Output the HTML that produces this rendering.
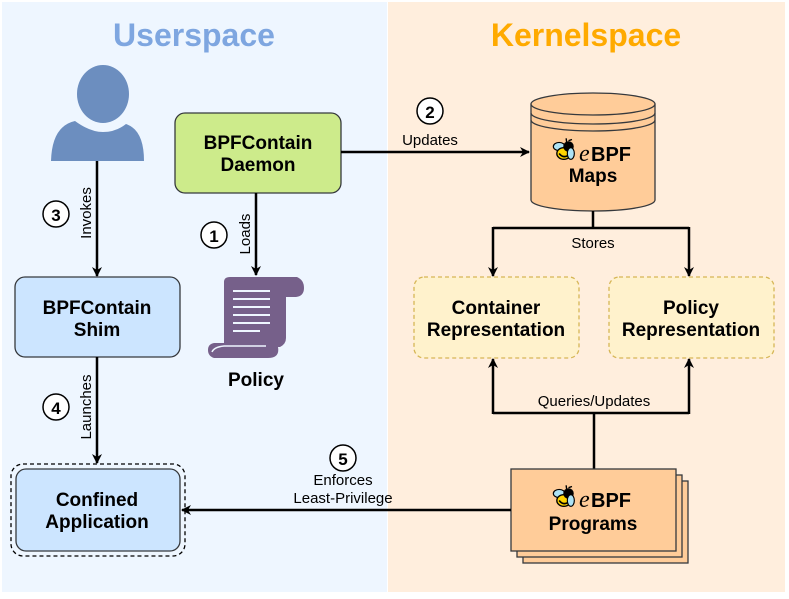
<!DOCTYPE html>
<html><head><meta charset="utf-8"><style>
html,body{margin:0;padding:0;background:#fff;}
svg{display:block;font-family:"Liberation Sans",Arial,sans-serif;}
</style></head><body>
<svg width="789" height="599" viewBox="0 0 789 599" xmlns="http://www.w3.org/2000/svg">
<defs>
<marker id="ah" markerWidth="10" markerHeight="10" refX="9" refY="5" orient="auto" markerUnits="userSpaceOnUse" viewBox="0 0 10 10">
<path d="M0,0 L10,5 L0,10 L3,5 Z" fill="#000"/>
</marker>
<symbol id="bee" viewBox="0 0 24 24">
<path d="M13 2 L13.5 6" stroke="#000" stroke-width="1.2"/>
<path d="M15 4 L18 3" stroke="#000" stroke-width="1.2"/>
<ellipse cx="7" cy="9" rx="5" ry="3.5" fill="#aee3f5" stroke="#000" stroke-width="1"/>
<ellipse cx="11" cy="15" rx="6" ry="5" fill="#ffd400" stroke="#000" stroke-width="1.2"/>
<circle cx="15" cy="9" r="4.5" fill="#000"/>
<path d="M7 15 Q10 19 14 17" stroke="#000" stroke-width="1.4" fill="none"/>
<ellipse cx="17" cy="15" rx="3" ry="5" fill="#aee3f5" stroke="#000" stroke-width="1"/>
</symbol>
</defs>
<rect x="2" y="2" width="385" height="590" fill="#eef6ff"/>
<rect x="388" y="2" width="397" height="590" fill="#ffeedd"/>
<text x="194" y="46" text-anchor="middle" font-size="32" font-weight="bold" fill="#7ea6e0">Userspace</text>
<text x="586" y="46" text-anchor="middle" font-size="32" font-weight="bold" fill="#ffaa00">Kernelspace</text>

<!-- person -->
<ellipse cx="103" cy="94" rx="26" ry="29" fill="#6c8ebf"/>
<path d="M51 161 Q52 126 75 121 Q90 132 103 132 Q116 132 126 124 Q144 130 144 161 Z" fill="#6c8ebf"/>

<!-- daemon -->
<rect x="175" y="113" width="166" height="80" rx="10" fill="#cdeb8b" stroke="#36393d" stroke-width="1.3"/>
<text x="258" y="149" text-anchor="middle" font-size="19" font-weight="bold">BPFContain</text>
<text x="258" y="171" text-anchor="middle" font-size="19" font-weight="bold">Daemon</text>

<!-- updates arrow -->
<line x1="341" y1="152" x2="529" y2="152" stroke="#000" stroke-width="2.5" marker-end="url(#ah)"/>
<circle cx="430" cy="111" r="13" fill="#fff" stroke="#000" stroke-width="1.5"/>
<text x="430" y="118" text-anchor="middle" font-size="17" font-weight="bold">2</text>
<text x="430" y="145" text-anchor="middle" font-size="15">Updates</text>

<!-- maps cylinder -->
<path d="M531 104 L531 200 A62 11 0 0 0 655 200 L655 104" fill="#ffcc99" stroke="#36393d" stroke-width="1.3"/>
<ellipse cx="593" cy="104" rx="62" ry="11" fill="#ffcc99" stroke="#36393d" stroke-width="1.3"/>
<path d="M531 113 A62 11 0 0 0 655 113 M531 120 A62 11 0 0 0 655 120" fill="none" stroke="#36393d" stroke-width="1.3"/>
<use href="#bee" x="551" y="136" width="28" height="28"/>
<text x="579" y="161" font-size="24" font-style="italic" font-family="Liberation Serif,serif">e</text>
<text x="591" y="161" font-size="20" font-weight="bold">BPF</text>
<text x="593" y="182" text-anchor="middle" font-size="19" font-weight="bold">Maps</text>

<!-- stores -->
<path d="M593 211 L593 228 M493 228 L689 228" stroke="#000" stroke-width="2.5" fill="none"/>
<line x1="493" y1="227" x2="493" y2="276" stroke="#000" stroke-width="2.5" marker-end="url(#ah)"/>
<line x1="689" y1="227" x2="689" y2="276" stroke="#000" stroke-width="2.5" marker-end="url(#ah)"/>
<text x="593" y="248" text-anchor="middle" font-size="15">Stores</text>

<!-- representations -->
<rect x="414" y="277" width="165" height="81" rx="10" fill="#fff2cc" stroke="#d6b656" stroke-width="1.3" stroke-dasharray="4 3"/>
<text x="496" y="314" text-anchor="middle" font-size="19" font-weight="bold">Container</text>
<text x="496" y="336" text-anchor="middle" font-size="19" font-weight="bold">Representation</text>
<rect x="609" y="277" width="165" height="81" rx="10" fill="#fff2cc" stroke="#d6b656" stroke-width="1.3" stroke-dasharray="4 3"/>
<text x="691" y="314" text-anchor="middle" font-size="19" font-weight="bold">Policy</text>
<text x="691" y="336" text-anchor="middle" font-size="19" font-weight="bold">Representation</text>

<!-- queries -->
<path d="M594 469 L594 413 M493 413 L689 413" stroke="#000" stroke-width="2.5" fill="none"/>
<line x1="493" y1="414" x2="493" y2="359" stroke="#000" stroke-width="2.5" marker-end="url(#ah)"/>
<line x1="689" y1="414" x2="689" y2="359" stroke="#000" stroke-width="2.5" marker-end="url(#ah)"/>
<text x="594" y="406" text-anchor="middle" font-size="15">Queries/Updates</text>

<!-- programs -->
<rect x="523" y="481" width="165" height="82" fill="#ffcc99" stroke="#36393d" stroke-width="1.3"/>
<rect x="517" y="475" width="165" height="82" fill="#ffcc99" stroke="#36393d" stroke-width="1.3"/>
<rect x="511" y="469" width="165" height="82" fill="#ffcc99" stroke="#36393d" stroke-width="1.3"/>
<use href="#bee" x="551" y="483" width="28" height="28"/>
<text x="579" y="507" font-size="24" font-style="italic" font-family="Liberation Serif,serif">e</text>
<text x="591" y="507" font-size="20" font-weight="bold">BPF</text>
<text x="593" y="530" text-anchor="middle" font-size="19" font-weight="bold">Programs</text>

<!-- enforces -->
<line x1="511" y1="510" x2="182" y2="510" stroke="#000" stroke-width="2.5" marker-end="url(#ah)"/>
<circle cx="343" cy="458" r="13" fill="#fff" stroke="#000" stroke-width="1.5"/>
<text x="343" y="465" text-anchor="middle" font-size="17" font-weight="bold">5</text>
<text x="343" y="485" text-anchor="middle" font-size="15">Enforces</text>
<text x="343" y="503" text-anchor="middle" font-size="15">Least-Privilege</text>

<!-- confined app -->
<rect x="11" y="464" width="174" height="92" rx="12" fill="none" stroke="#000" stroke-width="1.3" stroke-dasharray="4 3"/>
<rect x="16" y="469" width="164" height="82" rx="10" fill="#cce5ff" stroke="#36393d" stroke-width="1.3"/>
<text x="97" y="506" text-anchor="middle" font-size="19" font-weight="bold">Confined</text>
<text x="97" y="528" text-anchor="middle" font-size="19" font-weight="bold">Application</text>

<!-- shim -->
<rect x="15" y="277" width="165" height="80" rx="10" fill="#cce5ff" stroke="#36393d" stroke-width="1.3"/>
<text x="97" y="314" text-anchor="middle" font-size="19" font-weight="bold">BPFContain</text>
<text x="97" y="336" text-anchor="middle" font-size="19" font-weight="bold">Shim</text>

<!-- invokes -->
<line x1="97" y1="161" x2="97" y2="276" stroke="#000" stroke-width="2.5" marker-end="url(#ah)"/>
<text transform="translate(91,213) rotate(-90)" text-anchor="middle" font-size="15">Invokes</text>
<circle cx="56" cy="214" r="13" fill="#fff" stroke="#000" stroke-width="1.5"/>
<text x="56" y="221" text-anchor="middle" font-size="17" font-weight="bold">3</text>

<!-- launches -->
<line x1="97" y1="357" x2="97" y2="463" stroke="#000" stroke-width="2.5" marker-end="url(#ah)"/>
<text transform="translate(91,407) rotate(-90)" text-anchor="middle" font-size="15">Launches</text>
<circle cx="56" cy="407" r="13" fill="#fff" stroke="#000" stroke-width="1.5"/>
<text x="56" y="414" text-anchor="middle" font-size="17" font-weight="bold">4</text>

<!-- loads -->
<line x1="256" y1="193" x2="256" y2="275" stroke="#000" stroke-width="2.5" marker-end="url(#ah)"/>
<text transform="translate(250,234) rotate(-90)" text-anchor="middle" font-size="15">Loads</text>
<circle cx="214" cy="235" r="13" fill="#fff" stroke="#000" stroke-width="1.5"/>
<text x="214" y="242" text-anchor="middle" font-size="17" font-weight="bold">1</text>

<!-- policy scroll -->
<path d="M224 282 Q224 277 230 277 L297 277 Q304 280 304 288 Q304 296 296 297 L286 297 L286 338 Q286 344 280 347 L278 347 Q280 358 268 358 L214 358 Q208 356 208 350 Q208 344 214 343 L224 343 Z" fill="#76608a"/>
<path d="M212 352 Q214 347 224 346 L266 346" stroke="#eef6ff" stroke-width="1.5" fill="none"/>
<g stroke="#eef6ff" stroke-width="2">
<line x1="233" y1="291" x2="270" y2="291"/>
<line x1="233" y1="299" x2="270" y2="299"/>
<line x1="233" y1="307" x2="270" y2="307"/>
<line x1="233" y1="315" x2="270" y2="315"/>
<line x1="233" y1="323" x2="270" y2="323"/>
<line x1="233" y1="331" x2="260" y2="331"/>
</g>
<text x="256" y="386" text-anchor="middle" font-size="19" font-weight="bold">Policy</text>
</svg>
</body></html>
